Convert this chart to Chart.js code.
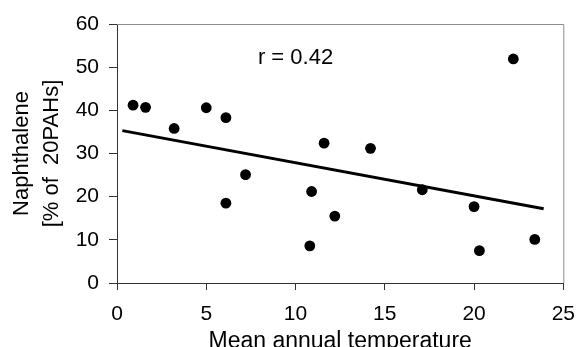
<!DOCTYPE html>
<html>
<head>
<meta charset="utf-8">
<script src="https://cdn.jsdelivr.net/npm/chart.js@4"></script>
<style>
  body { margin: 0; background: #fff; }
  #wrap { width: 587px; height: 347px; }
</style>
</head>
<body>
<div id="wrap"><canvas id="tempChart" width="587" height="347"></canvas></div>
<script>
// values
const temperature = [0.9, 1.6, 3.2, 5.0, 6.1, 6.1, 7.2, 10.8, 10.9, 11.6, 12.2, 14.2, 17.1, 20.0, 20.3, 22.2, 23.4];
const naphthalene = [41.2, 40.7, 35.8, 40.6, 38.3, 18.5, 25.1, 8.6, 21.2, 32.4, 15.5, 31.2, 21.6, 17.7, 7.5, 51.9, 10.1];
const trendX = [0.3, 23.9];
const trendY = [35.3, 17.2];
const xTicks = [0, 5, 10, 15, 20, 25];
const yTicks = [0, 10, 20, 30, 40, 50, 60];
const corrLabel = "r = 0.42";

const fontFamily = "'Liberation Sans', Arial, sans-serif";
const axisColor = "#333333";

const points = temperature.map((t, i) => ({ x: t, y: naphthalene[i] }));
const trend = trendX.map((t, i) => ({ x: t, y: trendY[i] }));

// gray frame on top/right + the r label
const extras = {
  id: "extras",
  afterDatasetsDraw(chart) {
    const { ctx, chartArea: a, scales } = chart;
    ctx.save();
    ctx.strokeStyle = "#8c8c8c";
    ctx.lineWidth = 1;
    ctx.beginPath();
    ctx.moveTo(a.left, a.top + 0.5);
    ctx.lineTo(a.right + 0.5, a.top + 0.5);
    ctx.lineTo(a.right + 0.5, a.bottom);
    ctx.stroke();

    ctx.fillStyle = "#000";
    ctx.font = "22px " + fontFamily;
    ctx.textAlign = "center";
    ctx.textBaseline = "middle";
    ctx.fillText(corrLabel, scales.x.getPixelForValue(10), scales.y.getPixelForValue(52.2));
    ctx.restore();
  }
};

new Chart(document.getElementById("tempChart"), {
  type: "scatter",
  data: {
    datasets: [
      {
        data: points,
        backgroundColor: "#000",
        borderWidth: 0,
        pointRadius: 5.4
      },
      {
        type: "line",
        data: trend,
        borderColor: "#000",
        borderWidth: 3,
        pointRadius: 0,
        fill: false
      }
    ]
  },
  options: {
    responsive: false,
    animation: false,
    layout: { padding: { left: 0, right: 15, top: 24, bottom: 0 } },
    plugins: {
      legend: { display: false },
      tooltip: { enabled: false }
    },
    scales: {
      x: {
        type: "linear",
        min: 0,
        max: 25,
        afterBuildTicks: s => { s.ticks = xTicks.map(v => ({ value: v })); },
        afterFit: s => { s.height = 64; },
        grid: { drawOnChartArea: false, tickLength: 7, color: axisColor },
        border: { color: axisColor, width: 1 },
        ticks: {
          color: "#000",
          padding: 12,
          maxRotation: 0,
          font: { family: fontFamily, size: 21 }
        },
        title: {
          display: true,
          text: "Mean annual temperature",
          color: "#000",
          padding: { top: 0, bottom: 0 },
          font: { family: fontFamily, size: 23, lineHeight: 0.43 }
        }
      },
      y: {
        min: 0,
        max: 60,
        afterBuildTicks: s => { s.ticks = yTicks.map(v => ({ value: v })); },
        afterFit: s => { s.width = 117; },
        grid: { drawOnChartArea: false, tickLength: 8, color: axisColor },
        border: { color: axisColor, width: 1 },
        ticks: {
          color: "#000",
          padding: 10,
          font: { family: fontFamily, size: 21 }
        },
        title: {
          display: true,
          text: ["Naphthalene", "[% of  20PAHs]"],
          color: "#000",
          padding: { top: 7, bottom: 0 },
          font: { family: fontFamily, size: 22, lineHeight: 1.364 }
        }
      }
    }
  },
  plugins: [extras]
});
</script>
</body>
</html>
